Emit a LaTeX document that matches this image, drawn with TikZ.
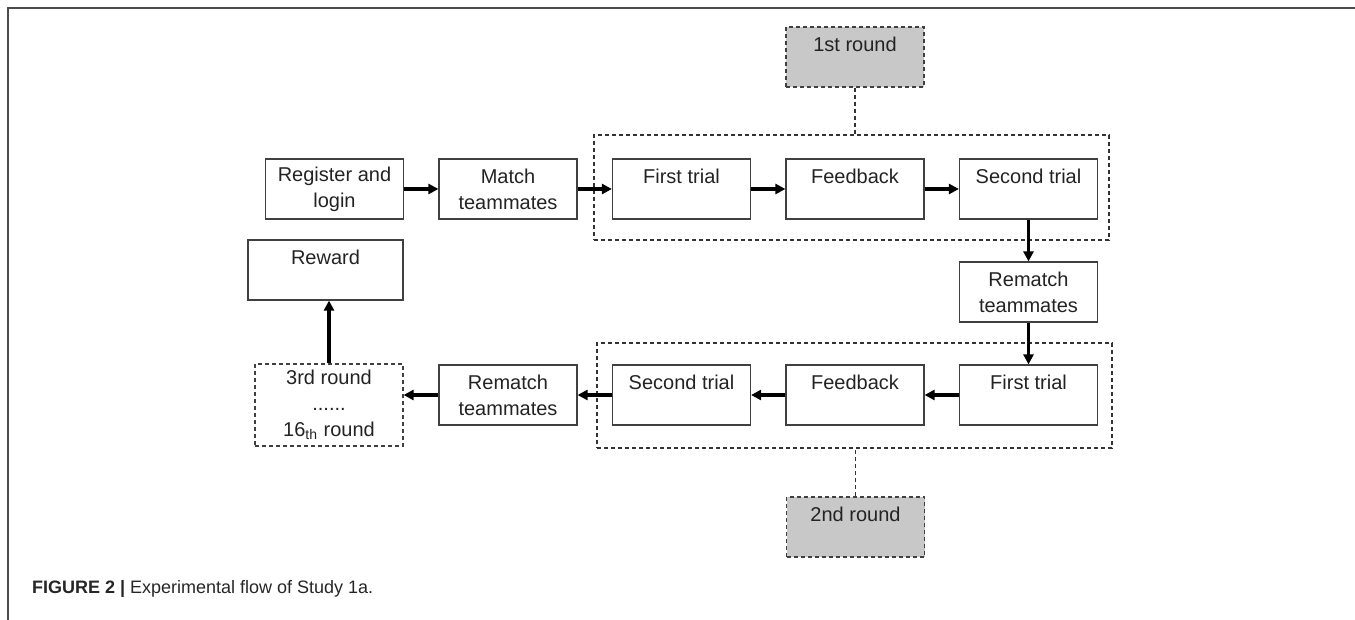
\documentclass[tikz,border=0pt]{standalone}
\usepackage{fontspec}
\setmainfont{Liberation Sans}
\usetikzlibrary{arrows.meta,positioning}
\definecolor{roundgray}{RGB}{200,200,200}
\definecolor{inkgray}{RGB}{35,35,35}

\begin{document}
\begin{tikzpicture}[x=0.5pt,y=-0.5pt,node distance=86.75pt,on grid,
  stage/.style={draw=black!75,line width=0.6pt,minimum width=69pt,minimum height=30pt,
    inner sep=0pt,align=center,text=inkgray,font=\fontsize{10}{13}\selectfont},
  dashes/.style={dash pattern=on 2pt off 1.5pt},
  roundbox/.style={stage,dashes,fill=roundgray},
  group/.style={draw=black!80,dashes,line width=0.55pt,minimum width=257.5pt,
    minimum height=52.5pt,inner sep=0pt},
  link/.style={draw=black!80,dashes,line width=0.55pt},
  flow/.style={-{Triangle[length=5pt,width=5pt]},line width=1.7pt}]
\useasboundingbox (0,0) rectangle (1355,620);
\draw[black!70,line width=1pt] (8,620) -- (8,8) -- (1355,8);

% first row
\node[stage] (reg) at (334.5,189) {Register and\\login};
\node[stage] (match) [right=of reg] {Match\\teammates};
\node[stage] (tri1a) [right=of match] {First trial\\~};
\node[stage] (fb1a) [right=of tri1a] {Feedback\\~};
\node[stage] (tri2a) [right=of fb1a] {Second trial\\~};
\node[stage] (rem1) [below=51.5pt of tri2a] {Rematch\\teammates};

% second row
\node[stage] (tri1b) [below=51.5pt of rem1] {First trial\\~};
\node[stage] (fb1b) [left=of tri1b] {Feedback\\~};
\node[stage] (tri2b) [left=of fb1b] {Second trial\\~};
\node[stage] (rem2) [left=of tri2b] {Rematch\\teammates};
\node[stage,dashes,minimum width=74pt,minimum height=41pt] (later) at (329,405)
  {3rd round\\......\\16\textsubscript{th} round};
\node[stage,minimum width=77.5pt] (reward) at (325.5,270) {Reward\\~};

% rounds
\node[group] (grp1) at (851.5,187.5) {};
\node[group] (grp2) at (854.5,395.5) {};
\node[roundbox] (rnd1) at (855,57) {1st round\\~};
\node[roundbox] (rnd2) at (855.5,527) {2nd round\\~};
\draw[link] (rnd1) -- (rnd1 |- grp1.north);
\draw[link] (rnd2) -- (rnd2 |- grp2.south);

\draw[flow] (reg) -- (match);
\draw[flow] (match) -- (tri1a);
\draw[flow] (tri1a) -- (fb1a);
\draw[flow] (fb1a) -- (tri2a);
\draw[flow] (tri2a) -- (rem1);
\draw[flow] (rem1) -- (tri1b);
\draw[flow] (tri1b) -- (fb1b);
\draw[flow] (fb1b) -- (tri2b);
\draw[flow] (tri2b) -- (rem2);
\draw[flow] (rem2) -- (rem2 -| later.east);
\draw[flow] (later.north) -- (later.north |- reward.south);

\node[anchor=base west,font=\fontsize{9}{11}\selectfont,text=black!85] (caption)
  at (25,593) {\textbf{FIGURE 2 |} Experimental flow of Study 1a.};
\end{tikzpicture}
\end{document}
